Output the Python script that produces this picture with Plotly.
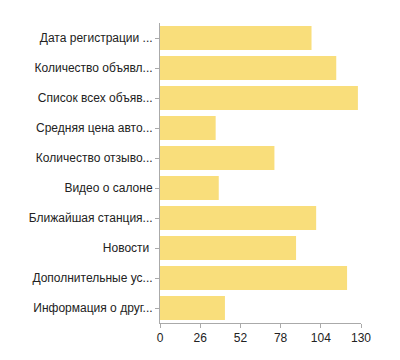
import plotly.graph_objects as go

categories = [
    "Дата регистрации ...",
    "Количество объявл...",
    "Список всех объяв...",
    "Средняя цена авто...",
    "Количество отзыво...",
    "Видео о салоне",
    "Ближайшая станция...",
    "Новости ",
    "Дополнительные ус...",
    "Информация о друг...",
]
values = [98, 114, 128, 36, 74, 38, 101, 88, 121, 42]
tick_vals = [0, 26, 52, 78, 104, 130]

fig = go.Figure(
    go.Bar(
        x=values,
        y=categories,
        orientation="h",
        marker=dict(color="#f9de7b", line=dict(width=0)),
    )
)

fig.update_layout(
    width=400,
    height=360,
    margin=dict(l=152, r=47, t=15, b=45),
    paper_bgcolor="white",
    plot_bgcolor="white",
    bargap=0.2,
    showlegend=False,
    font=dict(family="Liberation Sans, Arial, sans-serif", size=12, color="#222"),
)
fig.update_xaxes(
    range=[0, 130],
    tickvals=tick_vals,
    showgrid=False,
    zeroline=False,
    showline=True,
    linecolor="#aaaaaa",
    linewidth=1,
    ticks="outside",
    ticklen=4,
    tickcolor="#aaaaaa",
    tickfont=dict(size=12, color="#222"),
    automargin=False,
)
fig.update_yaxes(
    autorange="reversed",
    showgrid=False,
    zeroline=False,
    showline=True,
    linecolor="#aaaaaa",
    linewidth=1,
    ticks="outside",
    ticklen=4,
    tickcolor="#aaaaaa",
    tickfont=dict(size=12, color="#222"),
    automargin=False,
)

fig.write_html("out.html")
